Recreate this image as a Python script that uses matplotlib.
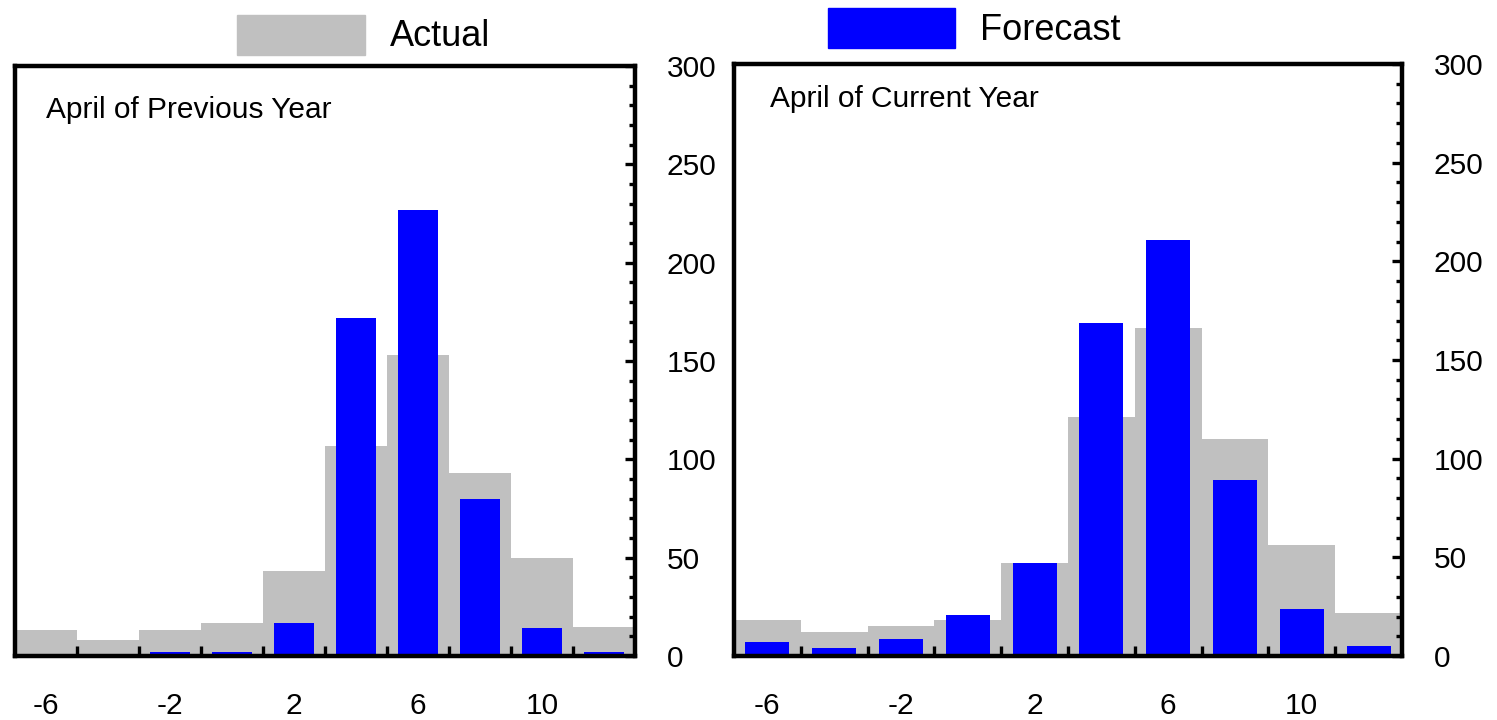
import matplotlib
matplotlib.use("Agg")
import matplotlib.pyplot as plt
from matplotlib.patches import Rectangle
from matplotlib.ticker import MultipleLocator, FixedLocator

plt.rcParams['font.family'] = ['Liberation Sans', 'DejaVu Sans']

# Bin centres (width 2) and counts
bins = [-6, -4, -2, 0, 2, 4, 6, 8, 10, 12]
prev_actual = [13, 8, 13, 17, 43, 107, 153, 93, 50, 15]
prev_forecast = [0, 0, 2, 2, 17, 172, 227, 80, 14, 2]
curr_actual = [18, 12, 15, 18, 47, 121, 166, 110, 56, 22]
curr_forecast = [7, 4, 8.5, 21, 47, 169, 211, 89, 24, 5]
xlabels = [-6, -2, 2, 6, 10]
panel_titles = ["April of Previous Year", "April of Current Year"]

GRAY = "#C0C0C0"
BLUE = "#0000FF"

fig = plt.figure(figsize=(14.97, 7.2), dpi=100)
ax1 = fig.add_axes([15/1497, 64/720, 620/1497, 590/720])
ax2 = fig.add_axes([734/1497, 64/720, 668/1497, 592/720])


def draw_panel(ax, actual, forecast, title, tx, ty):
    ax.bar(bins, actual, width=2.0, color=GRAY, linewidth=0, zorder=1)
    ax.bar(bins, forecast, width=1.32, color=BLUE, linewidth=0, zorder=2)
    ax.set_xlim(-7, 13)
    ax.set_ylim(0, 300)
    for s in ax.spines.values():
        s.set_linewidth(3.2)
        s.set_zorder(5)
    ax.xaxis.set_major_locator(FixedLocator(xlabels))
    ax.set_xticklabels([str(v) for v in xlabels])
    ax.xaxis.set_minor_locator(FixedLocator(list(range(-5, 13, 2))))
    ax.tick_params(axis='x', which='major', length=0, pad=26, labelsize=21.5)
    ax.tick_params(axis='x', which='minor', direction='in', length=7.5,
                   width=2.4, bottom=True, top=False)
    ax.yaxis.tick_right()
    ax.yaxis.set_major_locator(MultipleLocator(50))
    ax.yaxis.set_minor_locator(MultipleLocator(10))
    ax.tick_params(axis='y', which='major', direction='in', length=7.5,
                   width=2.4, pad=23, labelsize=21.5, left=False, right=True)
    ax.tick_params(axis='y', which='minor', direction='in', length=4.5,
                   width=2.4, left=False, right=True)
    for lab in ax.get_yticklabels():
        lab.set_horizontalalignment('left')
    ax.text(tx, ty, title, transform=ax.transAxes, fontsize=21.5,
            ha='left', va='center')


draw_panel(ax1, prev_actual, prev_forecast, panel_titles[0], 0.05, 0.925)
draw_panel(ax2, curr_actual, curr_forecast, panel_titles[1], 0.054, 0.941)

# Legend drawn in figure coordinates
fig.patches.append(Rectangle((237/1497, 665/720), 128/1497, 40/720,
                             transform=fig.transFigure, color=GRAY))
fig.text(390/1497, 683/720, "Actual", fontsize=26, ha='left', va='center')
fig.patches.append(Rectangle((828/1497, 672/720), 127/1497, 40/720,
                             transform=fig.transFigure, color=BLUE))
fig.text(980/1497, 690/720, "Forecast", fontsize=26, ha='left', va='center')

fig.savefig("out.png", dpi=100)
